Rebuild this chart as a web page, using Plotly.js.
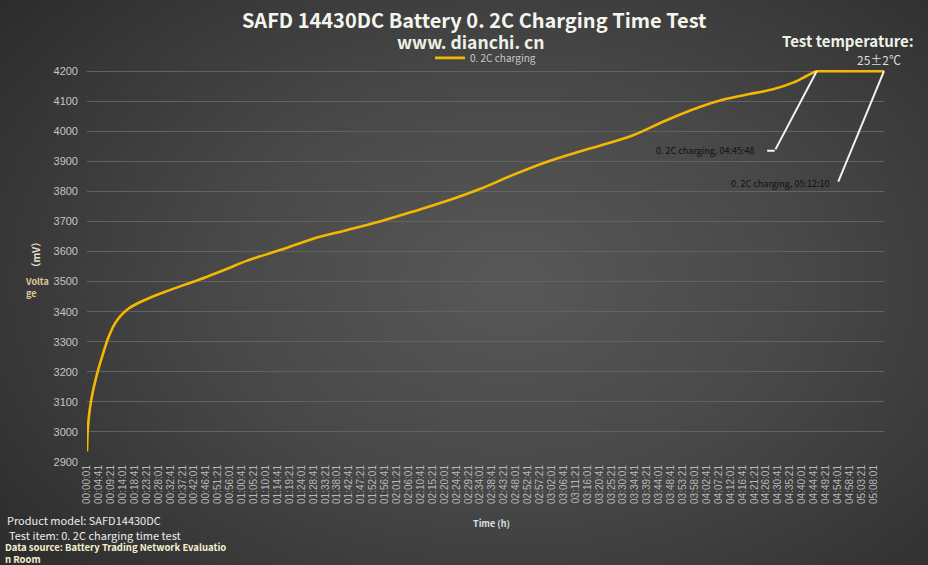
<!DOCTYPE html>
<html>
<head>
<meta charset="utf-8">
<script src="https://cdn.plot.ly/plotly-3.0.1.min.js"></script>
<style>
  html, body { margin:0; padding:0; }
  body { width:928px; height:565px; overflow:hidden;
    background: radial-gradient(ellipse 70% 80% at 55% 50%, #585858 0%, #484848 45%, #2c2c2c 100%); }
  #chart { width:928px; height:565px; }
</style>
</head>
<body>
<div id="chart"></div>
<script>
// charging curve
const timeLabels = ['00:00:01','00:00:20','00:01:11','00:02:29','00:04:26','00:06:24','00:08:21','00:10:59',
  '00:13:36','00:16:11','00:20:06','00:25:21','00:31:51','00:38:23','00:42:18','00:54:42','01:02:32',
  '01:15:34','01:28:36','01:41:41','01:54:43','02:07:45','02:20:50','02:33:52','02:46:54','02:59:59',
  '03:13:01','03:20:51','03:33:53','03:46:58','04:00:00','04:10:27','04:19:35','04:28:42','04:36:32',
  '04:41:47','04:45:48','04:47:10','05:12:10'];
const voltage = [2935,3010,3080,3141,3208,3263,3313,3361,
  3390,3410,3429,3449,3470,3490,3501,3542,3569,
  3605,3643,3671,3700,3733,3768,3808,3855,3898,
  3933,3952,3987,4037,4081,4108,4124,4140,4162,
  4184,4200,4200,4200];

const tickLabels = ['00:00:01','00:04:41','00:09:21','00:14:01','00:18:41','00:23:21','00:28:01','00:32:41',
  '00:37:21','00:42:01','00:46:41','00:51:21','00:56:01','01:00:41','01:05:21','01:10:01','01:14:41',
  '01:19:21','01:24:01','01:28:41','01:33:21','01:38:01','01:42:41','01:47:21','01:52:01','01:56:41',
  '02:01:21','02:06:01','02:10:41','02:15:21','02:20:01','02:24:41','02:29:21','02:34:01','02:38:41',
  '02:43:21','02:48:01','02:52:41','02:57:21','03:02:01','03:06:41','03:11:21','03:16:01','03:20:41',
  '03:25:21','03:30:01','03:34:41','03:39:21','03:44:01','03:48:41','03:53:21','03:58:01','04:02:41',
  '04:07:21','04:12:01','04:16:41','04:21:21','04:26:01','04:30:41','04:35:21','04:40:01','04:44:41',
  '04:49:21','04:54:01','04:58:41','05:03:21','05:08:01'];
const yTicks = [2900,3000,3100,3200,3300,3400,3500,3600,3700,3800,3900,4000,4100,4200];

// callouts: point on curve, label end point
const callTimes = ['04:45:48','05:12:10'];
const callTails = [['04:29:21',3935],['04:54:01',3828]];

function toSec(s){ const p = s.split(':').map(Number); return p[0]*3600 + p[1]*60 + p[2]; }

const cjk = '"Noto Sans CJK SC", "Noto Sans", sans-serif';
const sans = '"Liberation Sans", Arial, sans-serif';

const trace = {
  type:'scatter', mode:'lines', name:'0. 2C charging',
  x: timeLabels.map(toSec), y: voltage,
  line:{color:'#f5b800', width:2.6, shape:'spline', smoothing:0.9},
  hoverinfo:'x+y'
};

const annotations = [];
callTimes.forEach(function(t, i){
  const tail = callTails[i];
  annotations.push({ x:toSec(t), y:4200, xref:'x', yref:'y', ax:toSec(tail[0]), ay:tail[1], axref:'x', ayref:'y',
    showarrow:true, arrowhead:0, arrowwidth:2, arrowcolor:'#f2f2f2', text:'' });
  annotations.push({ x:toSec(tail[0]), y:tail[1], xref:'x', yref:'y', xanchor:'right', yanchor:'middle',
    xshift: i === 0 ? -19 : -7,
    showarrow:false, text:'0. 2C charging, ' + t, font:{family:cjk, size:9, color:'#101010'} });
});
// short leader under the first callout
annotations.push({ x:toSec(callTails[0][0]), y:callTails[0][1], xref:'x', yref:'y',
  ax:-9, ay:0, showarrow:true, arrowhead:0, arrowwidth:2, arrowcolor:'#f2f2f2', text:'' });

annotations.push(
  {xref:'paper', yref:'paper', x:0.482, y:1.073, xanchor:'center', yanchor:'middle', showarrow:false,
    text:'<b>www. dianchi. cn</b>', font:{family:cjk, size:17.5, color:'#f0f0e6'}},
  {xref:'paper', yref:'paper', x:1.04, y:1.074, xanchor:'right', yanchor:'middle', showarrow:false,
    text:'<b>Test temperature:</b>', font:{family:cjk, size:15, color:'#eef2e6'}},
  {xref:'paper', yref:'paper', x:1.024, y:1.028, xanchor:'right', yanchor:'middle', showarrow:false,
    text:'25±2℃', font:{family:cjk, size:12, color:'#dedede'}},
  {xref:'paper', yref:'paper', x:-0.065, y:0.53, xanchor:'center', yanchor:'middle', showarrow:false, textangle:-90,
    text:'<b>（mV）</b>', font:{family:cjk, size:10, color:'#e8e0cc'}},
  {xref:'paper', yref:'paper', x:-0.08, y:0.445, xanchor:'left', yanchor:'middle', showarrow:false, align:'left',
    text:'<b>Volta<br>ge</b>', font:{family:cjk, size:9, color:'#e0c898'}},
  {xref:'paper', yref:'paper', x:0.508, y:-0.157, xanchor:'center', yanchor:'middle', showarrow:false,
    text:'<b>Time (h)</b>', font:{family:cjk, size:9, color:'#d8e0e0'}},
  {xref:'paper', yref:'paper', x:-0.103, y:-0.148, xanchor:'left', yanchor:'middle', showarrow:false,
    text:'Product model: SAFD14430DC', font:{family:cjk, size:11, color:'#ececec'}},
  {xref:'paper', yref:'paper', x:-0.1, y:-0.185, xanchor:'left', yanchor:'middle', showarrow:false,
    text:'Test item: 0. 2C charging time test', font:{family:cjk, size:11, color:'#ececec'}},
  {xref:'paper', yref:'paper', x:-0.106, y:-0.233, xanchor:'left', yanchor:'middle', showarrow:false, align:'left',
    text:'<b>Data source: Battery Trading Network Evaluatio<br>n Room</b>', font:{family:cjk, size:9.5, color:'#f4f0d0'}}
);

const layout = {
  width:928, height:565,
  margin:{l:87, r:44, t:70, b:103, pad:0},
  paper_bgcolor:'rgba(0,0,0,0)', plot_bgcolor:'rgba(0,0,0,0)',
  title:{text:'<b>SAFD 14430DC Battery 0. 2C Charging Time Test</b>', x:0.511, xanchor:'center', y:0.963, yanchor:'middle',
    font:{family:cjk, size:20, color:'#f4f6ee'}},
  showlegend:true,
  legend:{orientation:'h', x:0.5, xanchor:'center', y:1.031, yanchor:'middle', bgcolor:'rgba(0,0,0,0)',
    font:{family:cjk, size:10, color:'#c8c8c8'}},
  xaxis:{range:[1, toSec('05:12:10')], tickmode:'array', tickvals:tickLabels.map(toSec), ticktext:tickLabels,
    tickangle:-90, tickfont:{family:sans, size:10, color:'#b8b8b8'}, showgrid:false, zeroline:false,
    showline:false, ticks:'', fixedrange:true},
  yaxis:{range:[2900, 4204], tickmode:'array', tickvals:yTicks, ticks:'', ticklabelstandoff:8,
    tickfont:{family:sans, size:11, color:'#c4c4c4'}, gridcolor:'#626262', gridwidth:1,
    zeroline:false, showline:false},
  annotations:annotations
};

Plotly.newPlot('chart', [trace], layout, {displayModeBar:false});
</script>
</body>
</html>
